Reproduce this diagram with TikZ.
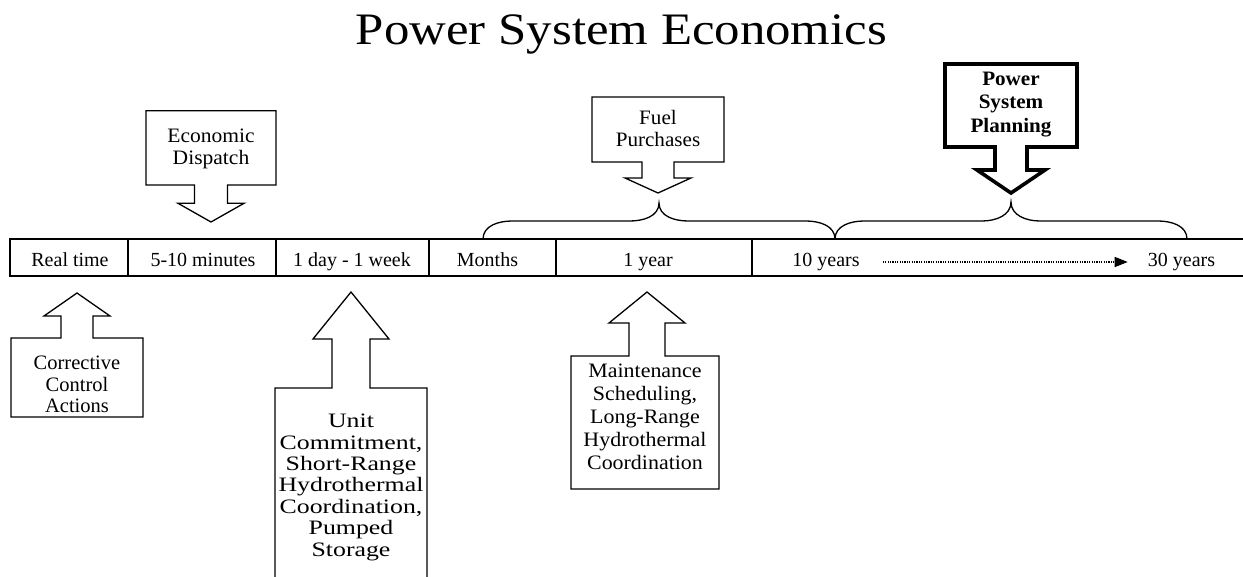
\documentclass[tikz,border=0pt]{standalone}
\usepackage{fontspec}
\setmainfont{Liberation Serif}
\usetikzlibrary{arrows.meta}

% centred multi-line label whose baseline is that of its first line
\newcommand\mlines[1]{\begin{tabular}[t]{@{}c@{}}#1\end{tabular}}

\tikzset{
  outline/.style={draw=black, line width=1.3pt, line join=miter},
  heavy/.style={draw=black, line width=3.6pt, line join=miter},
  bar/.style={draw=black, line width=1.8pt},
  cell/.style={anchor=base, inner sep=1pt, font=\fontsize{20}{24}\selectfont},
  lbl/.style={anchor=base, inner sep=0pt, font=\fontsize{20.5}{21.5}\selectfont},
  brace/.style={draw=black, line width=1.3pt},
  dotarrow/.style={line width=1.3pt, dash pattern=on 1.1pt off 1.3pt,
    -{Triangle[length=13pt,width=10pt]}}
}

\begin{document}
\begin{tikzpicture}[x=1pt,y=-1pt]
\useasboundingbox (0,0) rectangle (1243,577);

% title
\node[anchor=base, inner sep=0pt,
      font=\fontsize{45}{50}\selectfont\addfontfeatures{FakeStretch=1.13}]
  (title) at (621.5,45) {Power System Economics};

% time scale bar
\draw[bar] (1243,239) -- (10,239) -- (10,276) -- (1243,276);
\foreach \x in {128,276,429,556,752}
  \draw[bar] (\x,239) -- (\x,276);

\node[cell] (rt)  at (70,266.5)    {Real time};
\node[cell] (m10) at (203,266.5)   {5-10 minutes};
\node[cell] (dw)  at (352,266.5)   {1 day - 1 week};
\node[cell] (mo)  at (487.5,266.5) {Months};
\node[cell] (y1)  at (648,266.5)   {1 year};
\node[cell] (y10) at (826,266.5)   {10 years};
\node[cell] (y30) at (1181.5,266.5){30 years};
\draw[dotarrow, shorten <=22pt, shorten >=19pt] (y10.east) -- (y30.west);

% braces over the long-term ranges
\draw[brace] (483,239) to[out=90,in=180] (512,221) -- (630,221)
  to[out=0,in=-90] (659,203) to[out=-90,in=180] (688,221) -- (806,221)
  to[out=0,in=90] (835,239);
\draw[brace] (835,239) to[out=90,in=180] (864,221) -- (982,221)
  to[out=0,in=-90] (1011,202) to[out=-90,in=180] (1040,221) -- (1158,221)
  to[out=0,in=90] (1187,239);

% callouts pointing down onto the scale
\draw[outline] (146,110.7) -- (276,110.7) -- (276,185) -- (227.5,185)
  -- (227.5,203.3) -- (244,203.3) -- (211,222) -- (178,203.3)
  -- (194.5,203.3) -- (194.5,185) -- (146,185) -- cycle;
\node[lbl, font=\fontsize{20.5}{21.5}\selectfont\addfontfeatures{FakeStretch=1.05}]
  (ed) at (211,143) {\mlines{Economic\\Dispatch}};

\draw[outline] (592,97) -- (724,97) -- (724,162) -- (674,162)
  -- (674,178) -- (691,178) -- (658,193) -- (625,178)
  -- (642,178) -- (642,162) -- (592,162) -- cycle;
\node[lbl, font=\fontsize{20.5}{22.5}\selectfont\addfontfeatures{FakeStretch=1.03}]
  (fp) at (658,124.5) {\mlines{Fuel\\Purchases}};

\draw[heavy] (945,64) -- (1077,64) -- (1077,147) -- (1027,147)
  -- (1027,170) -- (1045,170) -- (1011,193) -- (977,170)
  -- (995,170) -- (995,147) -- (945,147) -- cycle;
\node[lbl, font=\fontsize{20.5}{23.5}\selectfont\bfseries\addfontfeatures{FakeStretch=1.03}]
  (psp) at (1011,85.5) {\mlines{Power\\System\\Planning}};

% callouts pointing up at the scale
\draw[outline] (11,417) -- (11,338) -- (61,338) -- (61,316) -- (44,316)
  -- (77,293) -- (110,316) -- (93,316) -- (93,338) -- (143,338)
  -- (143,417) -- cycle;
\node[lbl] (cca) at (77,370) {\mlines{Corrective\\Control\\Actions}};

\draw[outline] (275,580) -- (275,388) -- (332,388) -- (332,339) -- (313,339)
  -- (351,292) -- (389,339) -- (370,339) -- (370,388) -- (427,388)
  -- (427,580);
\node[lbl, font=\fontsize{20.5}{21.5}\selectfont\addfontfeatures{FakeStretch=1.26}]
  (uc) at (351,427.5)
  {\mlines{Unit\\Commitment,\\Short-Range\\Hydrothermal\\Coordination,\\Pumped\\Storage}};

\draw[outline] (571,489) -- (571,356) -- (629,356) -- (629,323) -- (609,323)
  -- (647,292) -- (685,323) -- (665,323) -- (665,356) -- (719,356)
  -- (719,489) -- cycle;
\node[lbl, font=\fontsize{20.5}{23}\selectfont\addfontfeatures{FakeStretch=1.07}]
  (ms) at (645,377.5)
  {\mlines{Maintenance\\Scheduling,\\Long-Range\\Hydrothermal\\Coordination}};
\end{tikzpicture}
\end{document}
